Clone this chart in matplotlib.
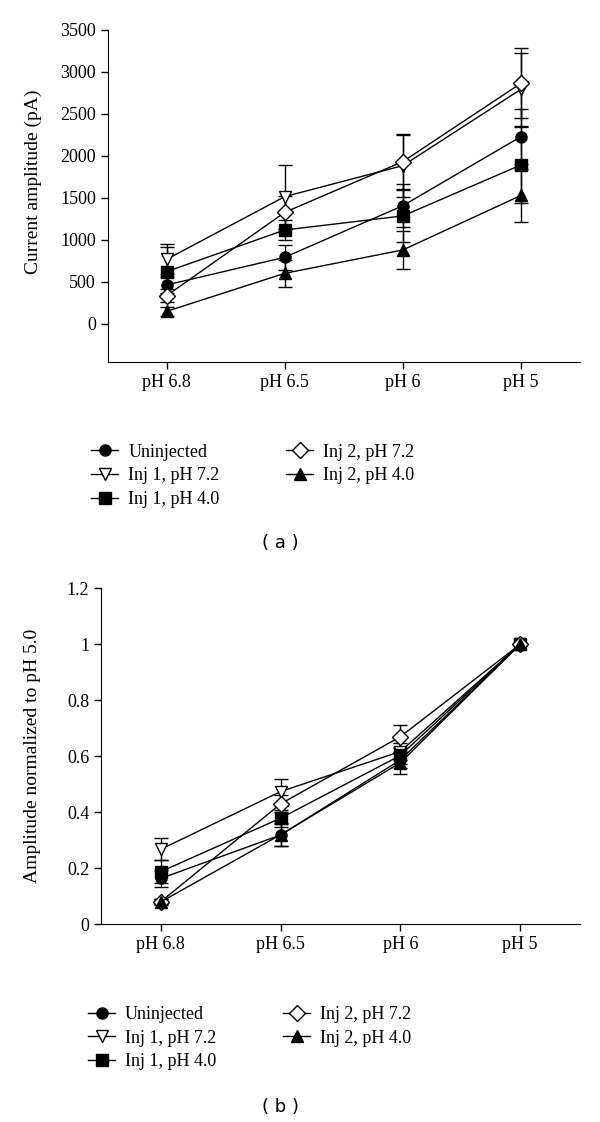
import matplotlib
matplotlib.use("Agg")
import matplotlib.pyplot as plt
from matplotlib.lines import Line2D
import numpy as np

plt.rcParams['font.family'] = ['Liberation Serif', 'DejaVu Serif']

ph_labels = ['pH 6.8', 'pH 6.5', 'pH 6', 'pH 5']
series = ['Uninjected', 'Inj 1, pH 7.2', 'Inj 1, pH 4.0', 'Inj 2, pH 7.2', 'Inj 2, pH 4.0']

# panel (a): current amplitude (pA)
amp_uninj = [464, 794, 1408, 2230]
amp_inj1_72 = [770, 1516, 1885, 2794]
amp_inj1_40 = [623, 1119, 1286, 1893]
amp_inj2_72 = [337, 1329, 1933, 2865]
amp_inj2_40 = [150, 603, 881, 1530]
err_uninj = [100, 150, 255, 330]
err_inj1_72 = [180, 380, 370, 436]
err_inj1_40 = [290, 120, 310, 450]
err_inj2_72 = [80, 200, 325, 417]
err_inj2_40 = [50, 163, 230, 312]

# panel (b): normalized to pH 5.0
norm_uninj = [0.164, 0.319, 0.587, 1.0]
norm_inj1_72 = [0.268, 0.474, 0.617, 1.0]
norm_inj1_40 = [0.188, 0.379, 0.603, 1.0]
norm_inj2_72 = [0.081, 0.430, 0.670, 1.0]
norm_inj2_40 = [0.080, 0.320, 0.577, 1.0]
nerr_uninj = [0.03, 0.04, 0.03, 0.0]
nerr_inj1_72 = [0.04, 0.044, 0.03, 0.0]
nerr_inj1_40 = [0.04, 0.03, 0.03, 0.0]
nerr_inj2_72 = [0.01, 0.03, 0.04, 0.0]
nerr_inj2_40 = [0.01, 0.04, 0.04, 0.0]

styles = [dict(marker='o', mfc='black', ms=8),
          dict(marker='v', mfc='white', ms=9),
          dict(marker='s', mfc='black', ms=8),
          dict(marker='D', mfc='white', ms=8),
          dict(marker='^', mfc='black', ms=9)]

x = np.arange(len(ph_labels))
fig = plt.figure(figsize=(6, 11.22), dpi=100)
fs = 13


def draw(ax, vals, errs):
    handles = []
    for name, v, e, st in zip(series, vals, errs, styles):
        ax.errorbar(x, v, yerr=e, color='black', lw=1.0, capsize=5,
                    elinewidth=1.0, capthick=1.0, mec='black', mew=1.0, **st)
        handles.append(Line2D([], [], color='black', lw=1.0, mec='black',
                              mew=1.0, label=name, **st))
    ax.spines['top'].set_visible(False)
    ax.spines['right'].set_visible(False)
    ax.set_xlim(-0.5, 3.5)
    ax.set_xticks(x)
    ax.set_xticklabels(ph_labels)
    ax.tick_params(direction='out', length=5, labelsize=fs, width=1)
    return handles


leg_kw = dict(ncol=2, frameon=False, fontsize=fs, loc='upper left',
              handlelength=1.5, labelspacing=0.37, handletextpad=0.55,
              borderaxespad=0)

ax1 = fig.add_axes([0.1795, 0.6776, 0.7872, 0.2957])
h1 = draw(ax1, [amp_uninj, amp_inj1_72, amp_inj1_40, amp_inj2_72, amp_inj2_40],
          [err_uninj, err_inj1_72, err_inj1_40, err_inj2_72, err_inj2_40])
ax1.set_ylim(-450, 3500)
ax1.set_yticks(np.arange(0, 3501, 500))
ax1.set_ylabel('Current amplitude (pA)', fontsize=14)
ax1.yaxis.set_label_coords(-0.14, 0.542)
ax1.legend(handles=h1, bbox_to_anchor=(-0.05, -0.225), columnspacing=3.7, **leg_kw)
fig.text(0.467, 1 - 543 / 1122, '( a )', fontsize=13, ha='center', va='center',
         family='DejaVu Sans')

ax2 = fig.add_axes([0.1683, 0.1762, 0.7984, 0.2995])
h2 = draw(ax2, [norm_uninj, norm_inj1_72, norm_inj1_40, norm_inj2_72, norm_inj2_40],
          [nerr_uninj, nerr_inj1_72, nerr_inj1_40, nerr_inj2_72, nerr_inj2_40])
ax2.set_ylim(0, 1.2)
ax2.set_yticks([0, 0.2, 0.4, 0.6, 0.8, 1.0, 1.2])
ax2.set_yticklabels(['0', '0.2', '0.4', '0.6', '0.8', '1', '1.2'])
ax2.set_ylabel('Amplitude normalized to pH 5.0', fontsize=14)
ax2.yaxis.set_label_coords(-0.125, 0.5)
ax2.legend(handles=h2, bbox_to_anchor=(-0.042, -0.222), columnspacing=3.7, **leg_kw)
fig.text(0.467, 1 - 1107 / 1122, '( b )', fontsize=13, ha='center', va='center',
         family='DejaVu Sans')

fig.savefig('out.png', dpi=100)
